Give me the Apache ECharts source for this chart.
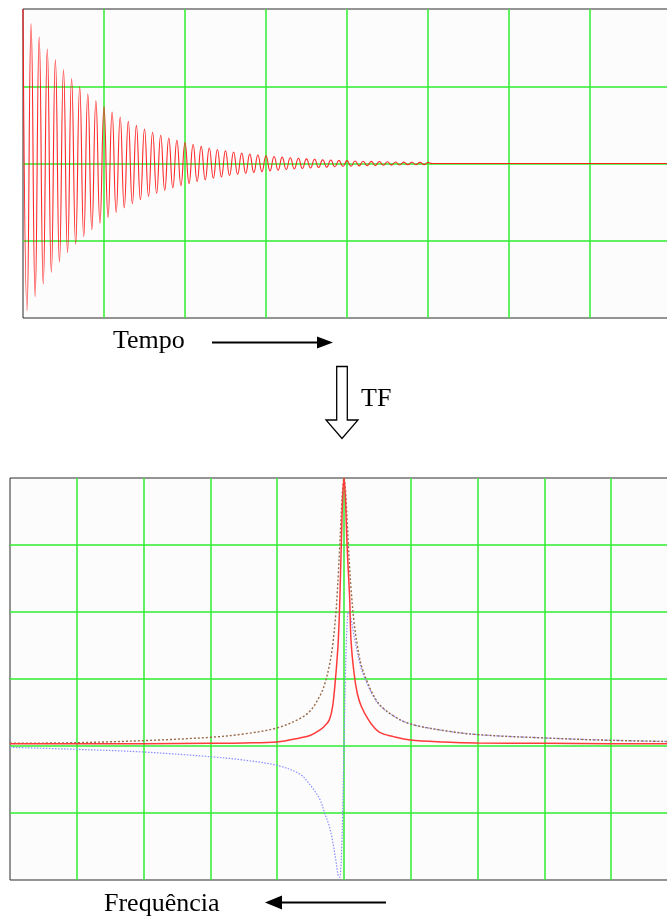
<!DOCTYPE html>
<html>
<head>
<meta charset="utf-8">
<title>Tempo / Frequência</title>
<script src="https://cdn.jsdelivr.net/npm/echarts@6/dist/echarts.min.js"></script>
<style>
  html, body { margin: 0; padding: 0; background: #ffffff; }
  #chart { width: 667px; height: 920px; }
</style>
</head>
<body>
<div id="chart"></div>
<script>
// Free induction decay: successive extremes of the damped oscillation, one every half period
const fidStep = 0.05;
const fidPeaks = [
  2.000, -1.902, 1.810, -1.721, 1.637, -1.558, 1.482, -1.409, 1.341, -1.275,
  1.213, -1.154, 1.098, -1.044, 0.993, -0.945, 0.899, -0.855, 0.813, -0.774,
  0.736, -0.700, 0.666, -0.633, 0.602, -0.573, 0.545, -0.519, 0.493, -0.469,
  0.446, -0.425, 0.404, -0.384, 0.365, -0.348, 0.331, -0.315, 0.299, -0.285,
  0.271, -0.258, 0.245, -0.233, 0.222, -0.211, 0.201, -0.191, 0.181, -0.173,
  0.164, -0.156, 0.149, -0.141, 0.134, -0.128, 0.122, -0.116, 0.110, -0.105,
  0.100, -0.095, 0.090, -0.086, 0.082, -0.078, 0.074, -0.070, 0.067, -0.064,
  0.060, -0.058, 0.055, -0.052, 0.049, -0.047, 0.045, -0.042, 0.040, -0.038,
  0.037, -0.035, 0.033, -0.031, 0.030, -0.029, 0.027, -0.026, 0.025, -0.023,
  0.022, -0.021, 0.020, -0.019, 0.018, -0.017, 0.016, -0.016, 0.015, -0.014,
  0.013, 0
];
const fidSettled = [8, 0];

// Spectrum after the Fourier transform: absorption, dispersion and magnitude
const freq = [-5, -4, -3, -2, -1.5, -1, -0.66, -0.5, -0.36, -0.29, -0.22, -0.17, -0.12, -0.1, -0.085, -0.065, -0.05, -0.035, -0.02,
  0,
  0.02, 0.035, 0.05, 0.065, 0.085, 0.105, 0.15, 0.2, 0.26, 0.36, 0.44, 0.54, 0.74, 0.99, 1.5, 2, 3, 4, 5];
const absorption = [0.035, 0.035, 0.035, 0.04, 0.045, 0.06, 0.12, 0.16, 0.24, 0.30, 0.39, 0.59, 1.09, 1.35, 1.58, 2.10, 2.65, 3.20, 3.70,
  4.00,
  3.72, 3.30, 2.90, 2.60, 2.20, 1.58, 1.09, 0.78, 0.59, 0.40, 0.29, 0.20, 0.14, 0.09, 0.06, 0.045, 0.04, 0.035, 0.035];
const dispersion = [-0.02, -0.05, -0.09, -0.16, -0.21, -0.29, -0.42, -0.59, -0.80, -1.00, -1.20, -1.42, -1.72, -1.86, -1.94, -1.96, -1.85, -1.55, -1.00,
  0,
  1.00, 1.55, 1.88, 2.00, 1.98, 1.90, 1.65, 1.40, 1.15, 0.90, 0.74, 0.60, 0.45, 0.33, 0.23, 0.17, 0.12, 0.085, 0.064];
const magnitude = [0.04, 0.05, 0.08, 0.13, 0.18, 0.27, 0.41, 0.53, 0.75, 0.92, 1.20, 1.50, 2.00, 2.30, 2.57, 2.96, 3.28, 3.59, 3.84,
  4.00,
  3.85, 3.60, 3.30, 3.00, 2.65, 2.35, 1.85, 1.50, 1.20, 0.93, 0.76, 0.61, 0.45, 0.33, 0.23, 0.17, 0.12, 0.085, 0.064];

const timeRange = [0, 8];
const ampRange = [-2, 2];
const freqRange = [-5, 5];
const specRange = [-2, 4];

const gridGreen = '#30ec30';
const serif = '"Liberation Serif", "Times New Roman", serif';

const fidData = fidPeaks.map((v, i) => [i * fidStep, v]).concat([fidSettled]);
const pairs = (ys) => freq.map((f, i) => [f, ys[i]]);

function plainAxis(range) {
  return {
    type: 'value', min: range[0], max: range[1], interval: 1,
    axisLine: { show: false, onZero: false }, axisTick: { show: false }, axisLabel: { show: false },
    splitLine: { show: true, showMinLine: false, showMaxLine: false, lineStyle: { color: gridGreen, width: 1.5 } }
  };
}

const chart = echarts.init(document.getElementById('chart'), null, { renderer: 'canvas' });
chart.setOption({
  backgroundColor: '#ffffff',
  animation: false,
  grid: [
    { left: 23, top: 9, width: 648, height: 309, outerBoundsMode: 'none', containLabel: false,
      show: true, backgroundColor: '#fcfcfc', borderColor: '#2a2a2a', borderWidth: 1 },
    { left: 10, top: 478, width: 668, height: 402, outerBoundsMode: 'none', containLabel: false,
      show: true, backgroundColor: '#fcfcfc', borderColor: '#2a2a2a', borderWidth: 1 }
  ],
  xAxis: [
    Object.assign(plainAxis(timeRange), { gridIndex: 0 }),
    Object.assign(plainAxis(freqRange), { gridIndex: 1 })
  ],
  yAxis: [
    Object.assign(plainAxis(ampRange), { gridIndex: 0 }),
    Object.assign(plainAxis(specRange), { gridIndex: 1 })
  ],
  series: [
    {
      name: 'FID', type: 'line', xAxisIndex: 0, yAxisIndex: 0,
      data: fidData, smooth: 0.5, showSymbol: false, z: 3,
      lineStyle: { color: '#ff1010', width: 1.1, opacity: 0.9 }
    },
    {
      name: 'Dispersão', type: 'line', xAxisIndex: 1, yAxisIndex: 1,
      data: pairs(dispersion), smooth: 0.35, showSymbol: false, z: 2,
      lineStyle: { color: '#8c8cff', width: 1.2, type: [1.5, 1.5] }
    },
    {
      name: 'Módulo', type: 'line', xAxisIndex: 1, yAxisIndex: 1,
      data: pairs(magnitude), smooth: 0.35, showSymbol: false, z: 3,
      lineStyle: { color: '#9a6a48', width: 1.4, type: [2, 2] }
    },
    {
      name: 'Absorção', type: 'line', xAxisIndex: 1, yAxisIndex: 1,
      data: pairs(absorption), smooth: 0.35, showSymbol: false, z: 4,
      lineStyle: { color: '#ff3a3a', width: 1.5 }
    }
  ],
  graphic: [
    { type: 'text', left: 113, top: 328, style: { text: 'Tempo', font: '26px ' + serif, fill: '#000' } },
    { type: 'line', shape: { x1: 212, y1: 342.5, x2: 320, y2: 342.5 }, style: { stroke: '#000', lineWidth: 2 } },
    { type: 'polygon', shape: { points: [[317, 336.5], [333, 342.5], [317, 348.5]] }, style: { fill: '#000' } },

    { type: 'polygon', shape: { points: [[336.7, 366.5], [347.3, 366.5], [347.3, 420], [358, 420], [342, 438.5], [326, 420], [336.7, 420]] },
      style: { fill: '#ffffff', stroke: '#000', lineWidth: 1.3 } },
    { type: 'text', left: 361, top: 386, style: { text: 'TF', font: '26px ' + serif, fill: '#000' } },

    { type: 'text', left: 104, top: 891, style: { text: 'Frequência', font: '26px ' + serif, fill: '#000' } },
    { type: 'line', shape: { x1: 280, y1: 902.5, x2: 386, y2: 902.5 }, style: { stroke: '#000', lineWidth: 2 } },
    { type: 'polygon', shape: { points: [[265, 902.5], [282, 895.5], [282, 909.5]] }, style: { fill: '#000' } }
  ]
});
</script>
</body>
</html>
